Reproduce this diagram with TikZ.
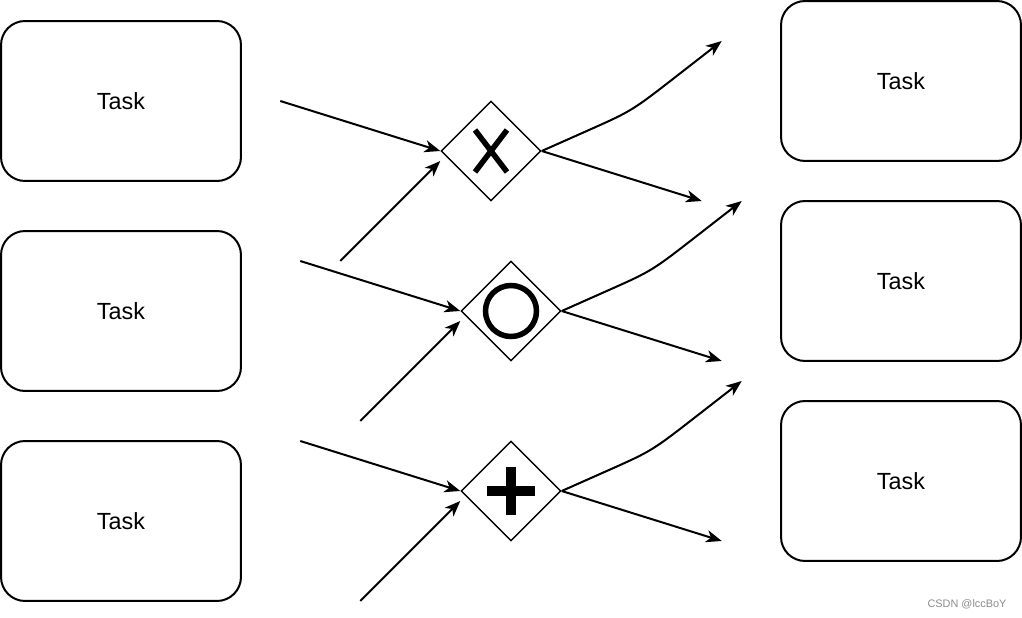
\documentclass[tikz,border=0pt]{standalone}
\usepackage{fontspec}
\setmainfont{Liberation Sans}
\usetikzlibrary{arrows.meta,positioning,calc,shapes.geometric}
\tikzset{
  task/.style={rectangle, rounded corners=0.48cm, draw=black, line width=0.04cm,
    minimum width=4.8cm, minimum height=3.2cm, font=\fontsize{13.3}{15}\selectfont},
  gateway/.style={diamond, draw=black, line width=0.03cm, minimum width=2cm,
    minimum height=2cm, inner sep=0pt},
  gmark/.style={line width=0.11cm, draw=black},
  flow/.style={-{Stealth[length=9pt, width=7pt, inset=2.6pt]}, line width=0.04cm, draw=black},
  wmark/.style={font=\fontsize{6.2}{7}\selectfont, text=black!45},
}

\begin{document}
\begin{tikzpicture}[x=0.02cm, y=-0.02cm]
  \useasboundingbox (0,0) rectangle (1022,618);
  % tasks
  \foreach \y/\nm in {101/ta, 311/tb, 521/tc}
    \node[task] (\nm) at (121,\y) {Task};
  \foreach \y/\nm in {81/td, 281/te, 481/tf}
    \node[task] (\nm) at (901,\y) {Task};
  % gateways
  \node[gateway] (gx) at (491,151) {};
  \node[gateway] (go) at (511,311) {};
  \node[gateway] (gp) at (511,491) {};
  \draw[gmark] ($(gx)+(-16,-21)$) -- ($(gx)+(16,21)$);
  \draw[gmark] ($(gx)+(16,-21)$) -- ($(gx)+(-16,21)$);
  \draw[gmark] (go) circle (0.51cm);
  \draw[line width=0.2cm] ($(gp)+(-24,0)$) -- ($(gp)+(24,0)$);
  \draw[line width=0.2cm] ($(gp)+(0,-24)$) -- ($(gp)+(0,24)$);
  % loose ends
  \foreach \g in {gx, go, gp} {
    \coordinate (\g-a) at ($(\g.west)+(-160,-50)$);
    \coordinate (\g-b) at ($(\g.west)+(-100,110)$);
    \coordinate (\g-bt) at ($(\g.west)+(0,10)$);
    \coordinate (\g-w) at ($(\g.east)+(90,-40)$);
    \coordinate (\g-u) at ($(\g.east)+(180,-110)$);
    \coordinate (\g-d) at ($(\g.east)+(160,50)$);
  }
  \foreach \g in {gx, go, gp} {
    \draw[flow] (\g-a) -- (\g.west);
    \draw[flow] (\g-b) -- (\g-bt);
    \draw[flow] (\g.east) -- ($(\g.east)!0.5!(\g-w)$) .. controls (\g-w) .. ($(\g-w)!0.5!(\g-u)$) -- (\g-u);
    \draw[flow] (\g.east) -- (\g-d);
  }
  \node[wmark] (wm) at (967,604) {CSDN @lccBoY};
\end{tikzpicture}
\end{document}
